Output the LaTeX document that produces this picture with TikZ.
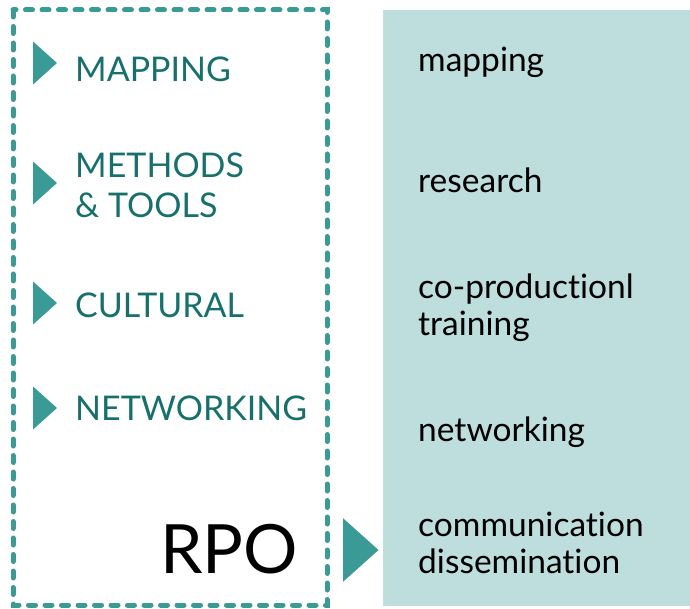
\documentclass[tikz,border=0pt]{standalone}
\usepackage{fontspec}
\setmainfont[Ligatures={NoCommon,NoRare}]{Lato}
\usetikzlibrary{positioning}
\definecolor{rpoteal}{HTML}{3A9A96}
\definecolor{rpotext}{HTML}{17706B}
\definecolor{rpopanel}{HTML}{BEDDDD}
\tikzset{
   mybox/.style={draw=rpoteal, line width=5pt, line cap=round, dash pattern=on 7pt off 9.5pt},
   mypanel/.style={fill=rpopanel},
   mylabel/.style={anchor=base west, inner sep=0pt, text=rpotext, font=\fontsize{34}{40}\selectfont, align=left},
   mytask/.style={anchor=base west, inner sep=0pt, text=black, font=\fontsize{33.5}{37}\selectfont, align=left},
   mytri/.pic={\fill[rpoteal] (0,-21.5) -- (24,0) -- (0,21.5) -- cycle;}
}

\begin{document}
\begin{tikzpicture}[x=1pt,y=-1pt]
      \useasboundingbox (0,0) rectangle (690,609);
      \fill[mypanel] (383,10) rectangle (690,606);
      \draw[mybox] (13,10) rectangle (327,605);
      % left column
      \pic at (33,63) {mytri};
      \pic at (33,183) {mytri};
      \pic at (33,303) {mytri};
      \pic at (33,408) {mytri};
      \node[mylabel] (mapping) at (75,82) {MAPPING};
      \node[mylabel] (methods) at (75,218) {METHODS\\\& TOOLS};
      \node[mylabel] (cultural) at (75,317) {CULTURAL};
      \node[mylabel] (networking) at (75,420) {NETWORKING};
      \node[anchor=base west, inner sep=0pt, font=\fontsize{68}{70}\selectfont] (rpo) at (160,573) {RPO};
      \pic[scale=1.48] at (343,550) {mytri};
      % right column
      \node[mytask] (tmapping) at (418,72) {mapping};
      \node[mytask] (tresearch) at (418,193) {research};
      \node[mytask] (ttraining) at (418,335) {co-productionl\\training};
      \node[mytask] (tnetworking) at (418,441) {networking};
      \node[mytask] (tcomm) at (418,573) {communication\\dissemination};
\end{tikzpicture}
\end{document}
